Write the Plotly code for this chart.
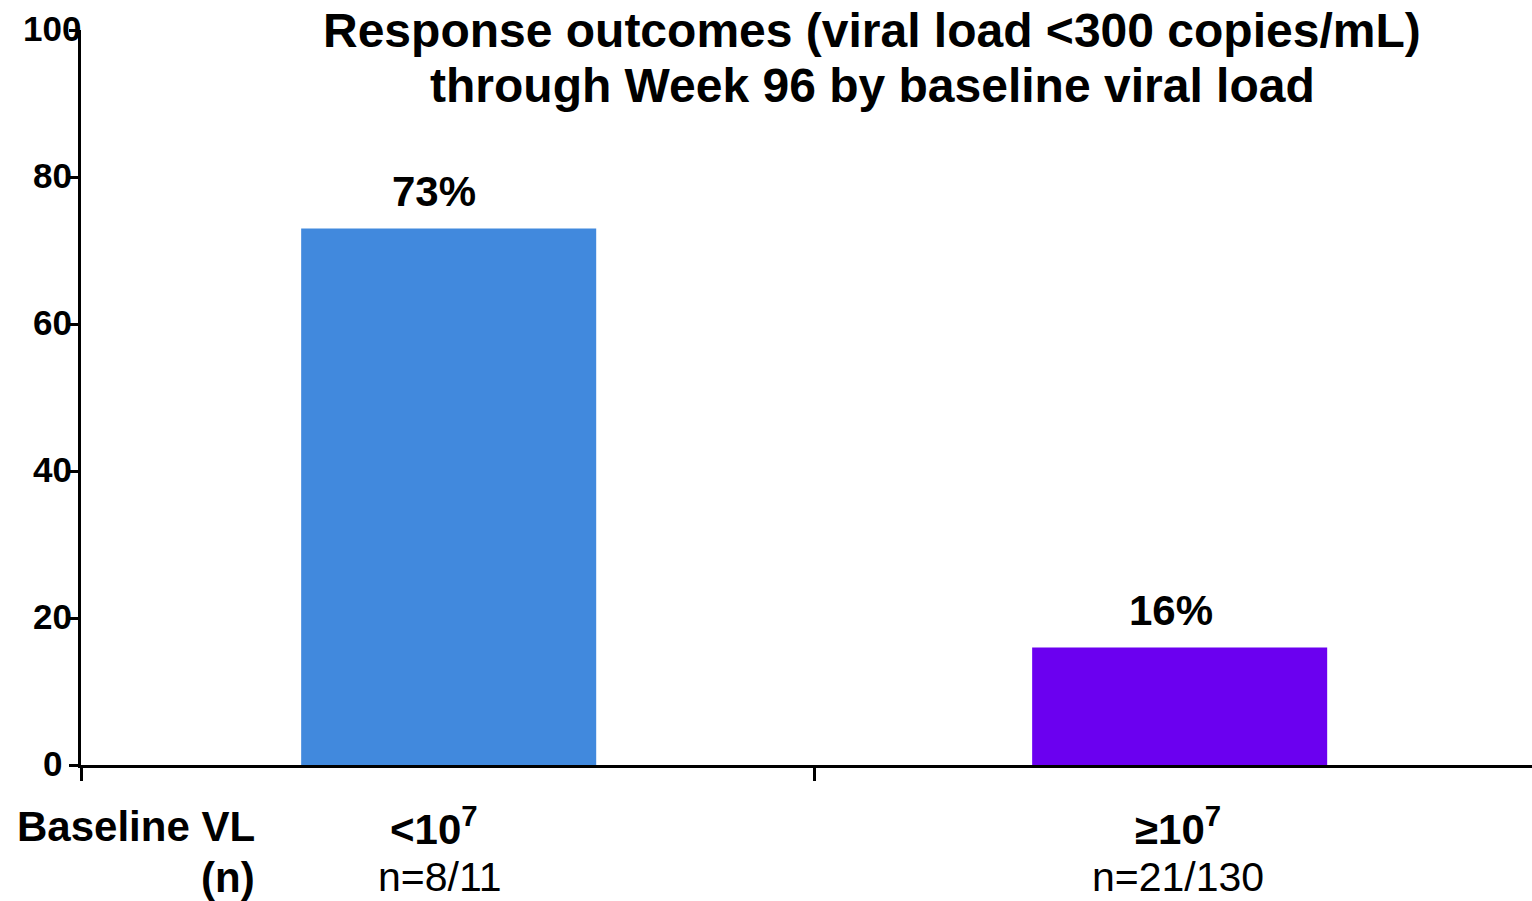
import plotly.graph_objects as go

# ---- data ----
categories = ["<10<sup>7</sup>", "≥10<sup>7</sup>"]
response_pct = [73, 16]
n_labels = ["n=8/11", "n=21/130"]
value_labels = ["73%", "16%"]
bar_colors = ["#4189DD", "#6B00F0"]
y_ticks = [0, 20, 40, 60, 80, 100]
title_lines = ["Response outcomes (viral load <300 copies/mL)",
               "through Week 96 by baseline viral load"]
row_label_top = "Baseline VL"
row_label_bottom = "(n)"

FONT = "Liberation Sans, Arial, sans-serif"
x_pos = list(range(len(categories)))

fig = go.Figure()
fig.add_trace(go.Bar(
    x=x_pos, y=response_pct,
    marker=dict(color=bar_colors, line=dict(width=0)),
    width=0.4036, hoverinfo="skip", showlegend=False,
))

fig.update_layout(
    width=1532, height=901,
    margin=dict(l=81, r=0, t=30, b=136),
    paper_bgcolor="white", plot_bgcolor="white",
    font=dict(family=FONT, color="black"),
    xaxis=dict(
        type="linear", range=[-0.503, 1.482],
        showgrid=False, zeroline=False,
        showline=True, linecolor="black", linewidth=2.5,
        tickvals=[-0.503, 0.5, 1.5], ticks="outside", ticklen=13, tickwidth=2.5, tickcolor="black",
        showticklabels=False, fixedrange=True,
    ),
    yaxis=dict(
        range=[0, 100],
        showgrid=False, zeroline=False,
        showline=True, linecolor="black", linewidth=2.5,
        tickvals=y_ticks, ticks="outside", ticklen=9, tickwidth=2.5, tickcolor="black",
        showticklabels=False, fixedrange=True,
    ),
)

annotations = []
# title lines
title_yshift = [0, -55]
for line, ys in zip(title_lines, title_yshift):
    annotations.append(dict(
        x=(872 - 81) / (1532 - 81), xref="paper", xanchor="center",
        y=1, yref="paper", yshift=ys, yanchor="middle",
        text=line, showarrow=False,
        font=dict(family=FONT, size=48, color="black", weight="bold"),
    ))

# y tick labels (centered, as in reference)
for v in y_ticks:
    annotations.append(dict(
        x=0, xref="paper", xshift=-29, xanchor="center",
        y=v, yref="y", yshift=2, yanchor="middle",
        text=str(v), showarrow=False,
        font=dict(family=FONT, size=35, color="black", weight="bold"),
    ))

# value labels above bars
val_xshift = [-15, -9]
for i, (v, lab) in enumerate(zip(response_pct, value_labels)):
    annotations.append(dict(
        x=x_pos[i], xref="x", xshift=val_xshift[i], xanchor="center",
        y=v, yref="y", yshift=37, yanchor="middle",
        text=lab, showarrow=False,
        font=dict(family=FONT, size=42, color="black", weight="bold"),
    ))

# category labels and n labels
cat_xshift = [-15, -2]
n_xshift = [-9, -2]
for i in range(len(categories)):
    annotations.append(dict(
        x=x_pos[i], xref="x", xshift=cat_xshift[i], xanchor="center",
        y=0, yref="y", yshift=-61, yanchor="middle",
        text=categories[i], showarrow=False,
        font=dict(family=FONT, size=42, color="black", weight="bold"),
    ))
    annotations.append(dict(
        x=x_pos[i], xref="x", xshift=n_xshift[i], xanchor="center",
        y=0, yref="y", yshift=-112, yanchor="middle",
        text=n_labels[i], showarrow=False,
        font=dict(family=FONT, size=41, color="black"),
    ))

# row labels at left
for txt, ys in [(row_label_top, -61), (row_label_bottom, -112)]:
    annotations.append(dict(
        x=0, xref="paper", xshift=176, xanchor="right",
        y=0, yref="y", yshift=ys, yanchor="middle",
        text=txt, showarrow=False,
        font=dict(family=FONT, size=42, color="black", weight="bold"),
    ))

fig.update_layout(annotations=annotations)
fig.write_html(
    "out.html",
    config={"displayModeBar": False},
    post_script="document.body.style.margin='0';document.body.style.overflow='hidden';",
)
